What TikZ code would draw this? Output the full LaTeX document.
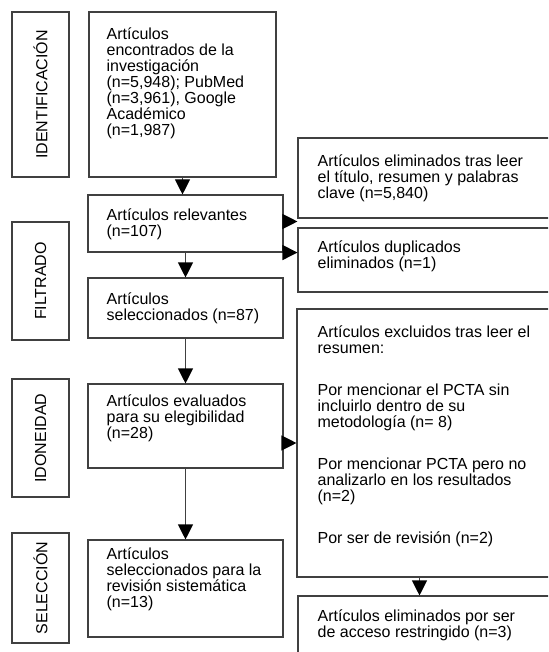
\documentclass[tikz,border=0pt]{standalone}
\usepackage{fontspec}
\setmainfont{Liberation Sans}
\usepackage{xcolor}
\usepackage{tikz}
\usetikzlibrary{positioning,arrows.meta,fit}
\definecolor{line700}{HTML}{404040}
\definecolor{ink900}{HTML}{000000}
\tikzset{
  every node/.style={font=\fontsize{16}{16}\selectfont, text=ink900},
  box/.style={
    rectangle, draw=line700, line width=1.1pt,
    inner sep=0pt
  },
  phase/.style={
    rectangle, draw=line700, line width=1.1pt,
    inner sep=0pt
  },
  txt/.style={
    anchor=north west, inner sep=0pt, align=left
  },
  arrow/.style={
    -{Triangle[length=15pt,width=15pt,ink900]},
    line width=1.1pt, draw=line700
  },
}
\begin{document}
\begin{tikzpicture}[x=1pt, y=-1pt]
  \useasboundingbox (0,0) rectangle (548,652);
  \fill[white] (0,0) rectangle (548,652);
  \clip (0,0) rectangle (548,652);
  % phase labels
  \node[phase, fit={(12,12) (69,177)}] (idlab) {};
  \node[rotate=90] (idtxt) at (idlab.center) {IDENTIFICACIÓN};
  \node[phase, fit={(12,222) (69,340)}] (filtlab) {};
  \node[rotate=90] (filttxt) at (filtlab.center) {FILTRADO};
  \node[phase, fit={(12,379) (69,497)}] (idonlab) {};
  \node[rotate=90] (idontxt) at (idonlab.center) {IDONEIDAD};
  \node[phase, fit={(12,533) (69,643)}] (sellab) {};
  \node[rotate=90] (seltxt) at (sellab.center) {SELECCIÓN};
  % main column
  \node[box, fit={(89,12) (276,177)}] (found) {};
  \node[txt] (foundtxt) at ([shift={(18pt,-16pt)}]found.north west) {Artículos\\ encontrados de la\\ investigación\\ (n=5,948); PubMed\\ (n=3,961), Google\\ Académico\\ (n=1,987)};
  \node[box, fit={(88,195) (283,252)}] (relev) {};
  \node[txt] (relevtxt) at ([shift={(19pt,-14.5pt)}]relev.north west) {Artículos relevantes\\ (n=107)};
  \node[box, fit={(88,278) (283,338)}] (selec) {};
  \node[txt] (selectxt) at ([shift={(19pt,-15.5pt)}]selec.north west) {Artículos\\ seleccionados (n=87)};
  \node[box, fit={(88,384) (283,468)}] (eleg) {};
  \node[txt] (elegtxt) at ([shift={(19pt,-11.5pt)}]eleg.north west) {Artículos evaluados\\ para su elegibilidad\\ (n=28)};
  \node[box, fit={(88,540) (283,637)}] (incl) {};
  \node[txt] (incltxt) at ([shift={(19pt,-8.5pt)}]incl.north west) {Artículos\\ seleccionados para la\\ revisión sistemática\\ (n=13)};
  % excluded column
  \node[box, fit={(298,138) (560,218)}] (elim) {};
  \node[txt] (elimtxt) at ([shift={(20pt,-17.5pt)}]elim.north west) {Artículos eliminados tras leer\\ el título, resumen y palabras\\ clave (n=5,840)};
  \node[box, fit={(298,228) (560,292)}] (dupl) {};
  \node[txt] (dupltxt) at ([shift={(20pt,-13.5pt)}]dupl.north west) {Artículos duplicados\\ eliminados (n=1)};
  \node[box, fit={(297,309) (560,577)}] (excl) {};
  \node[txt] (excltxt) at ([shift={(21pt,-17pt)}]excl.north west) {Artículos excluidos tras leer el\\ resumen:\\[26pt] Por mencionar el PCTA sin\\ incluirlo dentro de su\\ metodología (n= 8)\\[26pt] Por mencionar PCTA pero no\\ analizarlo en los resultados\\ (n=2)\\[26pt] Por ser de revisión (n=2)};
  \node[box, fit={(298,596) (560,660)}] (restr) {};
  \node[txt] (restrtxt) at ([shift={(20pt,-14.5pt)}]restr.north west) {Artículos eliminados por ser\\ de acceso restringido (n=3)};
  % connectors
  \draw[arrow] (found.south) -- (found.south |- relev.north);
  \draw[arrow] (relev.south) -- (selec.north);
  \draw[arrow] (selec.south) -- (eleg.north);
  \draw[arrow] (eleg.south) -- (incl.north);
  \draw[arrow] ([yshift=2pt]relev.east) -- ([yshift=2pt]relev.east -| elim.west);
  \draw[arrow] (relev.south east) -- (relev.south east -| dupl.west);
  \draw[arrow] ([yshift=-17pt]eleg.east) -- ([yshift=-17pt]eleg.east -| excl.west);
  \draw[arrow] ([xshift=-9pt]excl.south) -- ([xshift=-9pt]excl.south |- restr.north);
\end{tikzpicture}
\end{document}
